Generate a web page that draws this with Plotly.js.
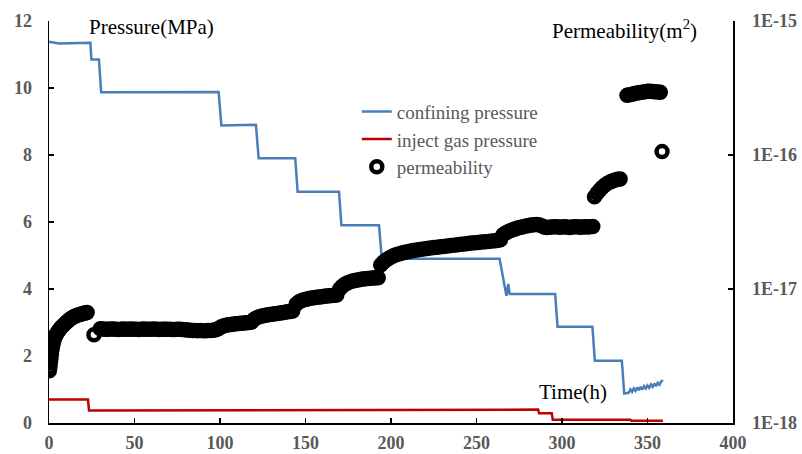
<!DOCTYPE html>
<html>
<head>
<meta charset="utf-8">
<script src="https://cdn.plot.ly/plotly-3.0.1.min.js"></script>
<style>html,body{margin:0;padding:0;background:#fff;}#chart{width:802px;height:454px;}</style>
</head>
<body>
<div id="chart"></div>
<script>
// Confining pressure (MPa)
var confTime = [0, 6, 24.2, 24.8, 29.2, 30.5, 99.2, 100.8, 121, 122.6, 144, 145.4, 169.6, 171, 193, 194.6, 263.5, 267.5, 268.6, 269.4, 270.2, 296, 297.4, 317.8, 319.2, 335, 336.4, 339, 340, 341, 342, 343, 344, 345, 346, 347, 348, 349, 350, 351, 352, 353, 354, 355, 356, 357, 358, 359];
var confPres = [11.38, 11.33, 11.35, 10.85, 10.85, 9.87, 9.88, 8.88, 8.9, 7.9, 7.9, 6.9, 6.9, 5.9, 5.9, 4.9, 4.9, 3.8, 4.15, 3.85, 3.85, 3.85, 2.87, 2.87, 1.86, 1.86, 0.88, 0.9, 1.0, 0.93, 1.03, 0.96, 1.06, 0.98, 1.08, 1.0, 1.1, 1.03, 1.12, 1.05, 1.15, 1.08, 1.18, 1.1, 1.2, 1.14, 1.24, 1.28];

// Inject gas pressure (MPa)
var injTime = [0, 22.8, 23.4, 100, 200, 286, 286.6, 294, 294.6, 340, 340.6, 359];
var injPres = [0.7, 0.7, 0.37, 0.38, 0.39, 0.4, 0.29, 0.29, 0.1, 0.1, 0.07, 0.07];

// Permeability (values in 1e-18 m^2)
var permTime = [
  0.2,0.5,0.8,1.1,1.4,1.8,2.2,2.6,3,3.5,4,4.6,5.2,5.8,6.5,7.2,8,8.8,9.6,10.5,11.5,12.5,13.5,14.5,15.5,16.5,17.5,18.5,19.5,20.5,21.5,22.3,
  26.3,
  30,31.5,33,34.5,36,37.5,39,40.5,42,43.5,45,46.5,48,49.5,51,52.5,54,55.5,57,58.5,60,61.5,63,64.5,66,67.5,69,70.5,72,73.5,75,76.5,78,79.5,81,82.5,84,85.5,87,88.5,90,91.5,93,94.5,96,97.5,
  99,100.5,102,103.5,105,106.5,108,109.5,111,112.5,114,115.5,117,118.5,
  120,121.5,123,124.5,126,127.5,129,130.5,132,133.5,135,136.5,138,139.5,141,142.5,
  144.5,146,147.5,149,150.5,152,153.5,155,156.5,158,159.5,161,162.5,164,165.5,167,168.3,
  170,171.5,173,174.5,176,177.5,179,180.5,182,183.5,185,186.5,188,189.5,191,192.5,
  194,195.5,197,198.5,200,201.5,203,204.5,206,207.5,209,211,213,215,217,219,221,223,225,227,229,231,233,235,237,239,241,243,245,247,249,251,253,255,257,259,261,262.5,264,
  265.5,267,268.5,270,271.5,273,274.5,276,277.5,279,280.5,282,283.5,285,286.5,
  288,289.5,291,292.5,294,295.5,297,298.5,300,301.5,303,304.5,306,307.5,309,310.5,312,313.5,315,316.5,318,
  319,320.5,322,323.5,325,326.5,328,329.5,331,332.5,334,
  338,339.5,341,342.5,344,345.5,347,348.5,350,351.5,353,354.5,356,357.5,
  358.5
];
var permE18 = [
  2.45,2.6,2.8,3.0,3.25,3.55,3.8,4.0,4.2,4.38,4.52,4.66,4.8,4.92,5.05,5.18,5.3,5.42,5.55,5.7,5.85,5.98,6.1,6.2,6.28,6.36,6.43,6.49,6.54,6.59,6.64,6.68,
  4.55,
  5.05,5.03,5.01,5.0,5.02,5.03,5.01,4.99,5.0,5.02,5.01,5.0,5.03,5.01,5.0,4.99,5.0,5.02,5.01,5.0,5.01,5.02,5.0,4.99,5.01,5.0,5.0,5.01,4.99,4.98,5.0,5.01,4.99,4.97,4.95,4.93,4.91,4.9,4.89,4.9,4.89,4.88,4.9,4.91,4.93,4.96,
  5.05,5.2,5.3,5.36,5.4,5.44,5.47,5.5,5.52,5.55,5.58,5.6,5.63,5.66,
  5.95,6.1,6.2,6.28,6.34,6.4,6.45,6.49,6.53,6.57,6.61,6.65,6.7,6.75,6.8,6.86,
  7.7,8.0,8.18,8.3,8.4,8.48,8.55,8.6,8.66,8.71,8.76,8.81,8.86,8.9,8.94,8.98,9.02,
  10.0,10.5,10.85,11.1,11.3,11.45,11.58,11.68,11.77,11.85,11.92,11.98,12.03,12.07,12.11,12.15,
  15.1,15.85,16.4,16.9,17.35,17.7,18.0,18.25,18.5,18.7,18.88,19.1,19.35,19.55,19.75,19.92,20.07,20.22,20.36,20.5,20.65,20.8,20.95,21.1,21.25,21.4,21.55,21.7,21.85,22.0,22.12,22.25,22.38,22.5,22.65,22.8,22.95,23.1,23.3,
  25.4,26.2,26.8,27.3,27.8,28.2,28.6,28.9,29.2,29.5,29.8,30.0,30.2,30.3,30.1,
  29.6,29.0,28.8,28.9,29.0,29.2,29.1,28.9,29.0,29.1,29.0,28.8,29.0,29.2,29.1,28.9,29.0,29.1,29.0,29.2,29.3,
  48.7,51.8,54.6,57.2,59.5,61.4,62.9,64.0,65.0,65.8,66.3,
  278.6,281.0,284.5,287.5,290.1,292.5,294.5,296.5,298.5,299.0,298.0,296.5,295.1,293.5,
  106
];

var xTicks = [0, 50, 100, 150, 200, 250, 300, 350, 400];
var yTicks = [0, 2, 4, 6, 8, 10, 12];
var y2Ticks = [1e-18, 1e-17, 1e-16, 1e-15];
var y2TickText = ["1E-18", "1E-17", "1E-16", "1E-15"];

var permVals = permE18.map(function (v) { return v * 1e-18; });

var tickFont = {family: "Liberation Serif", size: 18, color: "#595959", weight: "bold"};

var traces = [
  {x: confTime, y: confPres, name: "confining pressure", mode: "lines",
   line: {color: "#4a7ebb", width: 2.5}, yaxis: "y"},
  {x: injTime, y: injPres, name: "inject gas pressure", mode: "lines",
   line: {color: "#c00000", width: 2.5}, yaxis: "y"},
  {x: permTime, y: permVals, name: "permeability", mode: "markers", yaxis: "y2",
   marker: {symbol: "circle-open", size: 11, color: "#000", line: {width: 4.5, color: "#000"}}}
];

var layout = {
  width: 802, height: 454,
  margin: {l: 49, r: 69, t: 21, b: 31},
  paper_bgcolor: "#fff", plot_bgcolor: "#fff",
  showlegend: true,
  legend: {x: 0.45, xanchor: "left", y: 0.822, yanchor: "top", bgcolor: "rgba(0,0,0,0)",
           font: {family: "Liberation Serif", size: 19, color: "#595959"}, tracegroupgap: 0},
  xaxis: {range: [0, 400], tickvals: xTicks, ticks: "inside", ticklen: 5, tickwidth: 1.5, tickcolor: "#000",
          showline: true, linecolor: "#000", linewidth: 1.5, showgrid: false, zeroline: false,
          tickfont: tickFont, ticklabelstandoff: 3},
  yaxis: {range: [0, 12], tickvals: yTicks, ticks: "inside", ticklen: 5, tickwidth: 1.5, tickcolor: "#000",
          showline: true, linecolor: "#000", linewidth: 1.5, showgrid: false, zeroline: false,
          tickfont: tickFont, ticklabelstandoff: 12},
  yaxis2: {type: "log", range: [-18, -15], overlaying: "y", side: "right", tickvals: y2Ticks, ticktext: y2TickText,
           ticks: "inside", ticklen: 5, tickwidth: 1.5, tickcolor: "#000",
           showline: true, linecolor: "#000", linewidth: 1.5, showgrid: false, zeroline: false,
           tickfont: tickFont, ticklabelstandoff: 14},
  annotations: [
    {text: "Pressure(MPa)", xref: "paper", yref: "paper", x: 0.055, y: 0.985, xanchor: "left", yanchor: "middle",
     showarrow: false, font: {family: "Liberation Serif", size: 21, color: "#000"}},
    {text: "Permeability(m<sup>2</sup>)", xref: "paper", yref: "paper", x: 0.95, y: 0.98, xanchor: "right", yanchor: "middle",
     showarrow: false, font: {family: "Liberation Serif", size: 21, color: "#000"}},
    {text: "Time(h)", xref: "paper", yref: "paper", x: 0.713, y: 0.077, xanchor: "left", yanchor: "middle",
     showarrow: false, font: {family: "Liberation Serif", size: 21, color: "#000"}}
  ]
};

Plotly.newPlot("chart", traces, layout, {displayModeBar: false, staticPlot: true});
</script>
</body>
</html>
